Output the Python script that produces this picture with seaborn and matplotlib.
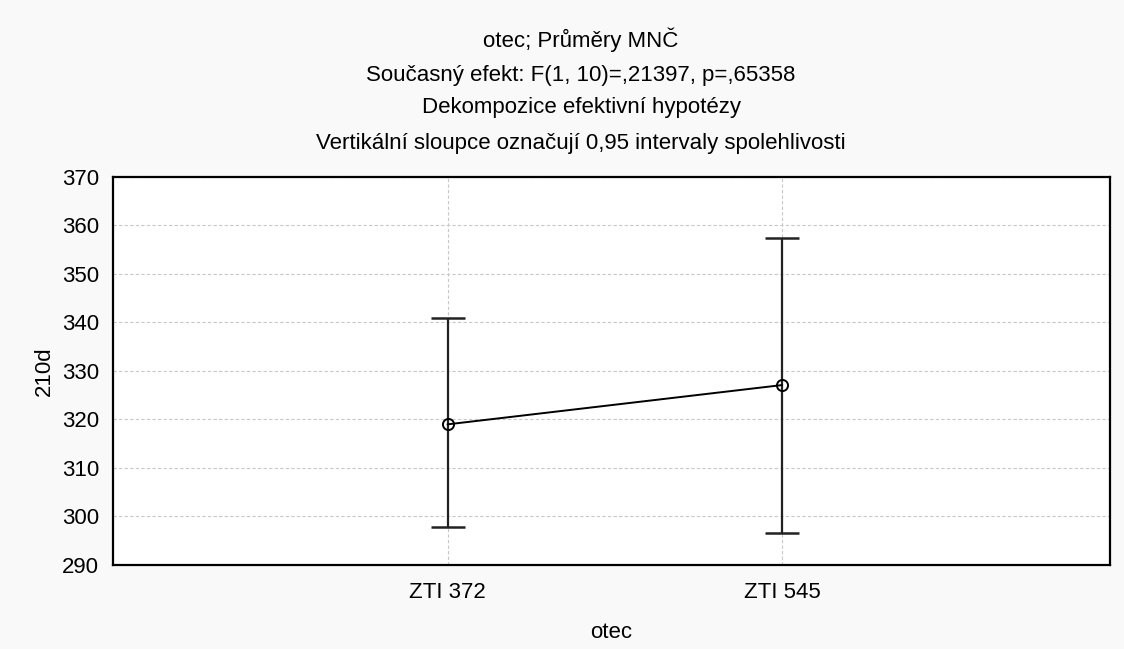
import matplotlib
matplotlib.use("Agg")
import matplotlib.pyplot as plt
import seaborn as sns
import pandas as pd

categories = ["ZTI 372", "ZTI 545"]
means = [319.0, 327.1]
lower = [297.8, 296.6]
upper = [340.9, 357.5]

title_lines = [
    "otec; Průměry MNČ",
    "Současný efekt: F(1, 10)=,21397, p=,65358",
    "Dekompozice efektivní hypotézy",
    "Vertikální sloupce označují 0,95 intervaly spolehlivosti",
]
y_ticks = [290, 300, 310, 320, 330, 340, 350, 360, 370]

sns.set_theme(style="white")
plt.rcParams["font.family"] = ["Liberation Sans", "DejaVu Sans"]

df = pd.DataFrame({"otec": categories, "210d": means})

W, H = 1124, 649
FS = 16
fig = plt.figure(figsize=(W / 100, H / 100), dpi=100, facecolor="#f9f9f9")
ax = fig.add_axes([113 / W, 1 - 565 / H, (1110 - 113) / W, (565 - 177) / H])
ax.set_facecolor("white")

sns.pointplot(data=df, x="otec", y="210d", order=categories, ax=ax,
              color="black", markers="o", errorbar=None,
              markersize=8, markerfacecolor="none", markeredgewidth=1.4,
              linewidth=1.4, zorder=3)

xs = list(range(len(categories)))
yerr = [[m - l for m, l in zip(means, lower)], [u - m for u, m in zip(upper, means)]]
ax.errorbar(xs, means, yerr=yerr, fmt="none", ecolor="#222222",
            elinewidth=1.6, capsize=12, capthick=1.8, zorder=2)

ax.set_xlim(-1, 1.98)
ax.set_ylim(290, 370)
ax.set_yticks(y_ticks)
ax.grid(True, color="#c8c8c8", linestyle=(0, (3, 2)), linewidth=0.8)
ax.set_axisbelow(True)
for s in ax.spines.values():
    s.set_color("black")
    s.set_linewidth(1.6)
ax.tick_params(axis="both", direction="in", length=3, color="black",
               labelsize=FS, labelcolor="black")
ax.tick_params(axis="y", pad=10)
ax.tick_params(axis="x", pad=12)
ax.set_xlabel("otec", fontsize=FS, color="black", labelpad=14)
ax.set_ylabel("210d", fontsize=FS, color="black", labelpad=5)

ys = [40, 76, 108, 143]
for t, y in zip(title_lines, ys):
    fig.text(581 / W, 1 - y / H, t, ha="center", va="center", fontsize=FS, color="black")

fig.savefig("out.png", dpi=100, facecolor=fig.get_facecolor())
